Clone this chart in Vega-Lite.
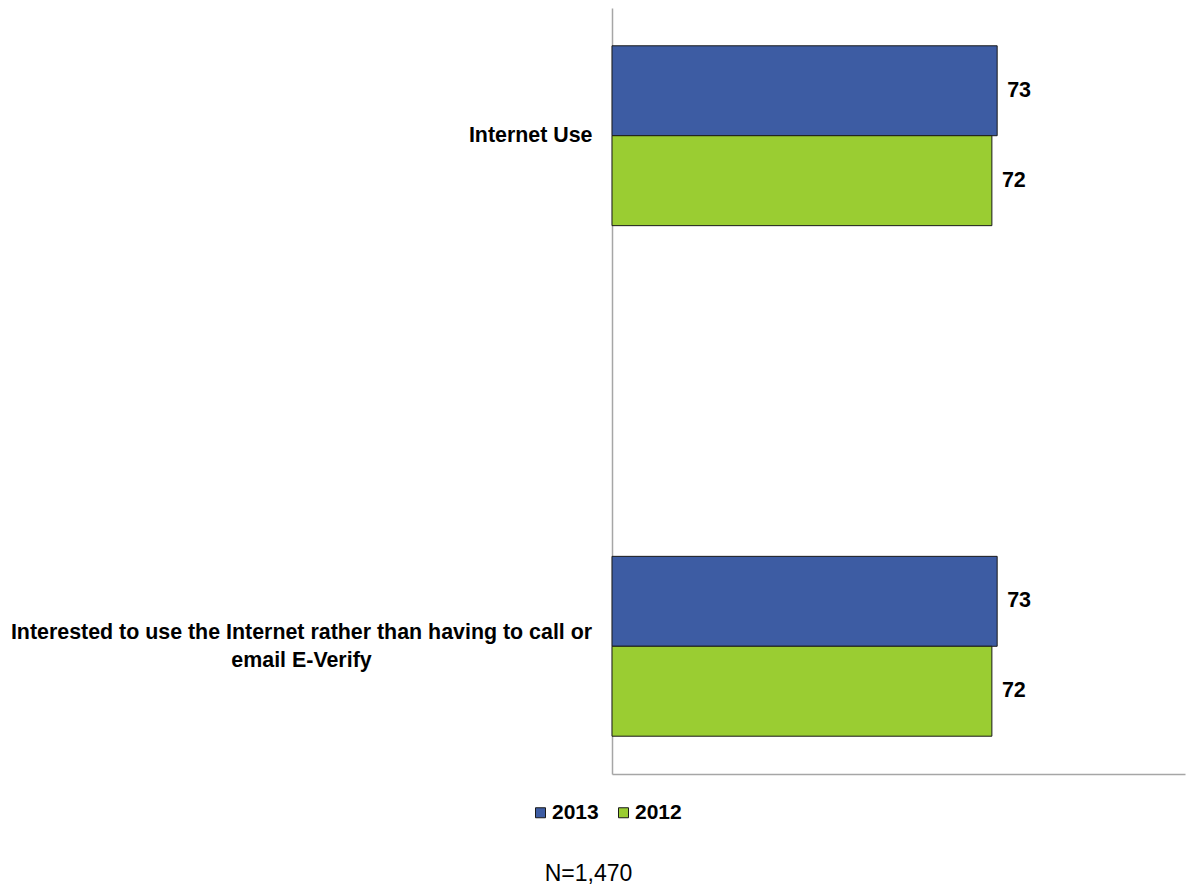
{
  "$schema": "https://vega.github.io/schema/vega-lite/v6.json",
  "autosize": "none",
  "padding": {"left": 612, "top": 8, "right": 2, "bottom": 114},
  "width": 573,
  "height": 766,
  "background": "white",
  "config": {"view": {"stroke": null}, "font": "Liberation Sans"},
  "title": {
    "text": "N=1,470",
    "orient": "bottom",
    "anchor": "middle",
    "frame": "group",
    "dx": -310,
    "offset": 40,
    "font": "Liberation Sans",
    "fontSize": 23,
    "fontWeight": "normal",
    "color": "#000000"
  },
  "data": {
    "values": [
      {"category": "Internet Use", "year": "2013", "value": 73},
      {"category": "Internet Use", "year": "2012", "value": 72},
      {"category": "Interested to use the Internet rather than having to call or email E-Verify", "year": "2013", "value": 73},
      {"category": "Interested to use the Internet rather than having to call or email E-Verify", "year": "2012", "value": 72}
    ]
  },
  "encoding": {
    "y": {
      "field": "category",
      "type": "nominal",
      "sort": ["Internet Use", "Interested to use the Internet rather than having to call or email E-Verify"],
      "scale": {"paddingInner": 0.6477, "paddingOuter": 0.074},
      "axis": {
        "title": null,
        "ticks": false,
        "domain": true,
        "domainColor": "#a6a6a6",
        "domainWidth": 1.5,
        "labelFont": "Liberation Sans",
        "labelFontSize": 21.4,
        "labelFontWeight": "bold",
        "labelColor": "#000000",
        "labelLimit": 1000,
        "labelLineHeight": 28,
        "labelBaseline": "middle",
        "labelAlign": {"condition": {"test": "datum.value == 'Internet Use'", "value": "right"}, "value": "center"},
        "labelPadding": {"condition": {"test": "datum.value == 'Internet Use'", "value": 20}, "value": 311},
        "labelOffset": {"condition": {"test": "datum.value == 'Internet Use'", "value": 0}, "value": -13},
        "labelExpr": "datum.value == 'Internet Use' ? datum.value : ['Interested to use the Internet rather than having to call or', 'email E-Verify']"
      }
    },
    "yOffset": {
      "field": "year",
      "type": "nominal",
      "sort": ["2013", "2012"],
      "scale": {"paddingInner": 0, "paddingOuter": 0}
    },
    "x": {
      "field": "value",
      "type": "quantitative",
      "scale": {"domain": [0, 108.6], "nice": false, "zero": true},
      "axis": {
        "title": null,
        "labels": false,
        "ticks": false,
        "grid": false,
        "domain": true,
        "domainColor": "#a6a6a6",
        "domainWidth": 1.5
      }
    }
  },
  "layer": [
    {
      "mark": {"type": "bar", "stroke": "#1a1a1a", "strokeWidth": 1},
      "encoding": {
        "color": {
          "field": "year",
          "type": "nominal",
          "sort": ["2013", "2012"],
          "scale": {"domain": ["2013", "2012"], "range": ["#3D5CA3", "#9ACD32"]},
          "legend": {
            "title": null,
            "orient": "none",
            "direction": "horizontal",
            "legendX": -82,
            "legendY": 794,
            "symbolType": "square",
            "symbolSize": 100,
            "symbolStrokeColor": "#1a1a1a",
            "symbolStrokeWidth": 1,
            "symbolOpacity": 1,
            "labelFont": "Liberation Sans",
            "labelFontSize": 21,
            "labelFontWeight": "bold",
            "labelColor": "#000000",
            "labelOffset": 1,
            "columnPadding": 14
          }
        }
      }
    },
    {
      "mark": {
        "type": "text",
        "align": "left",
        "baseline": "middle",
        "dx": 10,
        "font": "Liberation Sans",
        "fontSize": 21.5,
        "fontWeight": "bold",
        "color": "#000000"
      },
      "encoding": {
        "text": {"field": "value", "type": "quantitative"}
      }
    }
  ]
}
